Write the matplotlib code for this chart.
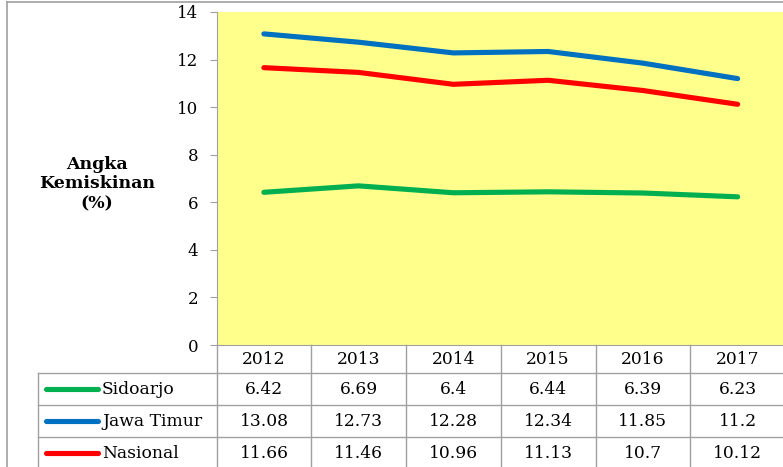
import matplotlib
matplotlib.use("Agg")
import matplotlib.pyplot as plt
from matplotlib.lines import Line2D
from matplotlib.transforms import blended_transform_factory

# data
years = ["2012", "2013", "2014", "2015", "2016", "2017"]
sidoarjo = [6.42, 6.69, 6.4, 6.44, 6.39, 6.23]
jawa_timur = [13.08, 12.73, 12.28, 12.34, 11.85, 11.2]
nasional = [11.66, 11.46, 10.96, 11.13, 10.7, 10.12]
sidoarjo_txt = ["6.42", "6.69", "6.4", "6.44", "6.39", "6.23"]
jawa_timur_txt = ["13.08", "12.73", "12.28", "12.34", "11.85", "11.2"]
nasional_txt = ["11.66", "11.46", "10.96", "11.13", "10.7", "10.12"]

series = [
    ("Sidoarjo", sidoarjo, sidoarjo_txt, "#00B050"),
    ("Jawa Timur", jawa_timur, jawa_timur_txt, "#0070C0"),
    ("Nasional", nasional, nasional_txt, "#FF0000"),
]

W, H = 783, 467
plt.rcParams["font.family"] = ["DejaVu Serif"]
grey = "#A0A0A0"
fs = 12.3

fig = plt.figure(figsize=(W / 100, H / 100), dpi=100)

def fx(px):
    return px / W

def fy(py):
    return 1 - py / H

ax = fig.add_axes([fx(216.5), fy(345), fx(785 - 216.5), (345 - 12) / H])
ax.set_facecolor("#FFFF8C")
x = range(len(years))
for name, vals, txt, col in series:
    ax.plot(x, vals, color=col, lw=3.7, solid_capstyle="round")

ax.set_xlim(-0.5, len(years) - 0.5)
ax.set_ylim(0, 14)
ax.set_yticks(range(0, 15, 2))
ax.set_xticks([])
ax.tick_params(axis="y", direction="out", length=5, color=grey, labelsize=12, pad=8)
for s in ["top", "right"]:
    ax.spines[s].set_visible(False)
for s in ["left", "bottom"]:
    ax.spines[s].set_color(grey)

# data table under the axis
tr = blended_transform_factory(ax.transData, fig.transFigure)
rows_y = [345, 373, 405, 437, 469]

def hline(py, x0px):
    fig.add_artist(Line2D([fx(x0px), 1], [fy(py), fy(py)], color=grey, lw=1))

for py in rows_y[1:4]:
    hline(py, 38)
for i in range(len(years) + 1):
    fig.add_artist(Line2D([i - 0.5, i - 0.5], [fy(345), fy(469)],
                          transform=tr, color=grey, lw=1, clip_on=False))
fig.add_artist(Line2D([fx(38), fx(38)], [fy(373), fy(469)], color=grey, lw=1))

for i, yr in enumerate(years):
    fig.text(i, fy(359), yr, transform=tr, ha="center", va="center", fontsize=fs)

for r, (name, vals, txt, col) in enumerate(series):
    cy = (rows_y[r + 1] + rows_y[r + 2]) / 2
    fig.add_artist(Line2D([fx(46), fx(98)], [fy(cy), fy(cy)], color=col,
                          lw=3.7, solid_capstyle="round"))
    fig.text(fx(102), fy(cy), name, ha="left", va="center", fontsize=fs)
    for i, t in enumerate(txt):
        fig.text(i, fy(cy), t, transform=tr, ha="center", va="center", fontsize=fs)

fig.text(fx(97), fy(184), "Angka\nKemiskinan\n(%)", ha="center", va="center",
         fontsize=12.5, fontweight="bold", linespacing=1.2)

# outer chart border
fig.add_artist(Line2D([fx(6.5), fx(6.5)], [fy(2), 0], color=grey, lw=1.2))
fig.add_artist(Line2D([fx(6.5), 1], [fy(2), fy(2)], color=grey, lw=1.2))

fig.savefig("out.png", dpi=100)
